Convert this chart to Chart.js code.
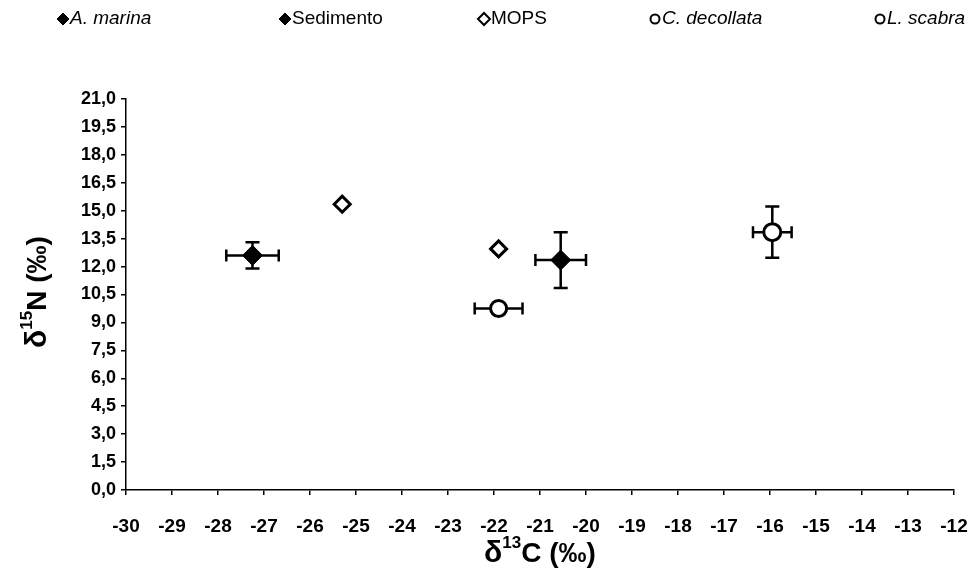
<!DOCTYPE html>
<html>
<head>
<meta charset="utf-8">
<script src="https://cdn.jsdelivr.net/npm/chart.js@4.4.1/dist/chart.umd.min.js"></script>
<style>
  html, body { margin: 0; padding: 0; background: #fff; }
  #wrap { width: 975px; height: 579px; position: relative; }
</style>
</head>
<body>
<div id="wrap"><canvas id="chart"></canvas></div>
<script>
// ─── Data ───
const seriesLabels = ['A. marina', 'Sedimento', 'MOPS', 'C. decollata', 'L. scabra'];
const seriesItalic = [true, false, false, true, true];
const seriesC = [[-27.25], [-20.55], [-25.3, -21.9], [-21.9], [-15.95]];   // δ13C
const seriesN = [[12.6], [12.35], [15.35, 12.95], [9.75], [13.85]];       // δ15N
const errC = [[0.57], [0.55], [0, 0], [0.52], [0.42]];
const errN = [[0.7], [1.5], [0, 0], [0.1], [1.37]];
const xRange = [-30, -12];
const yRange = [0, 21];
const yStep = 1.5;

const FONT = '"Liberation Sans", Arial, sans-serif';

// ─── Marker styles ───
const markers = [
  { pointStyle: 'rectRot', radius: 10, backgroundColor: '#000', borderWidth: 1 },
  { pointStyle: 'rectRot', radius: 10, backgroundColor: '#000', borderWidth: 1 },
  { pointStyle: 'rectRot', radius: 8, backgroundColor: '#fff', borderWidth: 3 },
  { pointStyle: 'circle', radius: 8, backgroundColor: '#fff', borderWidth: 3 },
  { pointStyle: 'circle', radius: 8.5, backgroundColor: '#fff', borderWidth: 3 },
];

const datasets = seriesLabels.map((label, i) => ({
  label,
  data: seriesC[i].map((c, j) => ({ x: c, y: seriesN[i][j] })),
  pointStyle: markers[i].pointStyle,
  pointRadius: markers[i].radius,
  pointHoverRadius: markers[i].radius,
  pointBackgroundColor: markers[i].backgroundColor,
  pointBorderColor: '#000',
  pointBorderWidth: markers[i].borderWidth,
  showLine: false,
}));

// ─── Error bars, drawn behind the markers ───
const errorBars = {
  id: 'errorBars',
  beforeDatasetsDraw(chart) {
    const { ctx, scales: { x, y } } = chart;
    ctx.save();
    ctx.strokeStyle = '#000';
    ctx.lineWidth = 2.5;
    seriesC.forEach((cs, i) => cs.forEach((c, j) => {
      const n = seriesN[i][j];
      const px = x.getPixelForValue(c), py = y.getPixelForValue(n);
      const ex = errC[i][j], ey = errN[i][j];
      ctx.beginPath();
      if (ex) {
        const l = x.getPixelForValue(c - ex), r = x.getPixelForValue(c + ex);
        ctx.moveTo(l, py); ctx.lineTo(r, py);
        ctx.moveTo(l, py - 6); ctx.lineTo(l, py + 6);
        ctx.moveTo(r, py - 6); ctx.lineTo(r, py + 6);
      }
      if (ey) {
        const t = y.getPixelForValue(n + ey), b = y.getPixelForValue(n - ey);
        ctx.moveTo(px, t); ctx.lineTo(px, b);
        ctx.moveTo(px - 7, t); ctx.lineTo(px + 7, t);
        ctx.moveTo(px - 7, b); ctx.lineTo(px + 7, b);
      }
      ctx.stroke();
    }));
    ctx.restore();
  }
};

// ─── Legend row and axis titles (mixed italic / superscripts) ───
const legendX = [63, 285, 484, 655, 880];
const decor = {
  id: 'decor',
  afterDraw(chart) {
    const { ctx, chartArea } = chart;
    ctx.save();
    ctx.textBaseline = 'middle';
    ctx.fillStyle = '#000';
    seriesLabels.forEach((label, i) => {
      const mx = legendX[i], my = 19;
      const m = markers[i];
      ctx.lineWidth = m.borderWidth > 1 ? 2 : 1;
      ctx.strokeStyle = '#000';
      ctx.fillStyle = m.backgroundColor;
      Chart.helpers.drawPoint(ctx, { pointStyle: m.pointStyle, radius: m.pointStyle === 'circle' ? 4.5 : 6, borderWidth: ctx.lineWidth }, mx, my);
      ctx.fillStyle = '#000';
      ctx.font = (seriesItalic[i] ? 'italic ' : '') + '19px ' + FONT;
      ctx.textAlign = 'left';
      ctx.fillText(label, mx + 7, my);
    });

    const drawTitle = (parts, cx, cy) => {
      let w = 0;
      parts.forEach(p => { ctx.font = 'bold ' + p.size + 'px ' + FONT; w += ctx.measureText(p.t).width; });
      let xx = cx - w / 2;
      parts.forEach(p => {
        ctx.font = 'bold ' + p.size + 'px ' + FONT;
        ctx.textAlign = 'left';
        ctx.fillText(p.t, xx, cy + (p.dy || 0));
        xx += ctx.measureText(p.t).width;
      });
    };
    // x title: δ13C (‰)
    drawTitle([{ t: 'δ', size: 30 }, { t: '13', size: 17, dy: -11 }, { t: 'C (‰)', size: 28 }],
      (chartArea.left + chartArea.right) / 2, 554);
    // y title: δ15N (‰)
    ctx.save();
    ctx.translate(38, 292);
    ctx.rotate(-Math.PI / 2);
    drawTitle([{ t: 'δ', size: 30 }, { t: '15', size: 17, dy: -11 }, { t: 'N (‰)', size: 28 }], 0, 0);
    ctx.restore();
    ctx.restore();
  }
};

const tickFont = { family: FONT, size: 19, weight: 'bold' };

new Chart(document.getElementById('chart'), {
  type: 'scatter',
  data: { datasets },
  options: {
    responsive: true,
    maintainAspectRatio: false,
    animation: false,
    devicePixelRatio: 1,
    layout: { padding: { top: 99, right: 21, left: 0, bottom: 0 } },
    plugins: { legend: { display: false }, tooltip: { enabled: false } },
    scales: {
      x: {
        type: 'linear', min: xRange[0], max: xRange[1],
        afterFit: s => { s.height = 89; s.paddingLeft = 0; s.paddingRight = 0; },
        ticks: { stepSize: 1, color: '#000', font: tickFont, padding: 20, autoSkip: false, maxRotation: 0, callback: v => String(v) },
        grid: { drawOnChartArea: false, drawTicks: true, tickLength: 5, color: '#000', lineWidth: 1.5 },
        border: { display: true, color: '#000', width: 1.5 },
      },
      y: {
        type: 'linear', min: yRange[0], max: yRange[1],
        afterFit: s => { s.width = 126; s.paddingTop = 0; s.paddingBottom = 0; },
        ticks: { stepSize: yStep, color: '#000', font: { family: FONT, size: 18, weight: 'bold' }, padding: 5, autoSkip: false, callback: v => v.toFixed(1).replace('.', ',') },
        grid: { drawOnChartArea: false, drawTicks: true, tickLength: 5, color: '#000', lineWidth: 1.5 },
        border: { display: true, color: '#000', width: 1.5 },
      },
    },
  },
  plugins: [errorBars, decor],
});
</script>
</body>
</html>
